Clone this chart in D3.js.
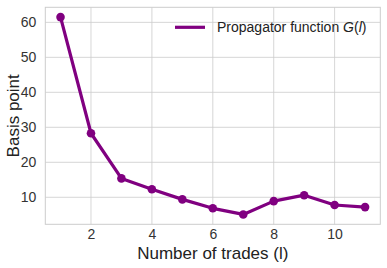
<!DOCTYPE html>
<html><head><meta charset="utf-8">
<script src="https://cdn.jsdelivr.net/npm/d3@7"></script>
<style>body{margin:0;background:#fff}svg{display:block}text{font-family:"Liberation Sans",Arial,sans-serif}</style>
</head><body>
<script>
const trades = [1,2,3,4,5,6,7,8,9,10,11];
const propagator = [61.5,28.3,15.4,12.3,9.4,6.85,5.1,8.9,10.6,7.8,7.2];
const xTicks = [2,4,6,8,10];
const yTicks = [10,20,30,40,50,60];
const seriesName = "Propagator function ";

const W=387,H=268;
const m={l:45.3,r:6.7,t:7.3,b:43.7};
const svg=d3.select("body").append("svg").attr("width",W).attr("height",H);
const x=d3.scaleLinear().domain([0.5,11.5]).range([m.l,W-m.r]);
const y=d3.scaleLinear().domain([2.28,64.3]).range([H-m.b,m.t]);
const g=svg.append("g");
// grid
g.selectAll(".gx").data(xTicks).join("line").attr("x1",d=>x(d)).attr("x2",d=>x(d)).attr("y1",m.t).attr("y2",H-m.b).attr("stroke","#cccccc").attr("stroke-width",0.8);
g.selectAll(".gy").data(yTicks).join("line").attr("y1",d=>y(d)).attr("y2",d=>y(d)).attr("x1",m.l).attr("x2",W-m.r).attr("stroke","#cccccc").attr("stroke-width",0.8);
g.append("rect").attr("x",m.l).attr("y",m.t).attr("width",W-m.r-m.l).attr("height",H-m.b-m.t).attr("fill","none").attr("stroke","#cccccc").attr("stroke-width",1);
// axes
const xa=svg.append("g").attr("transform",`translate(0,${H-m.b})`).call(d3.axisBottom(x).tickValues(xTicks).tickSize(0).tickPadding(5));
const ya=svg.append("g").attr("transform",`translate(${m.l},0)`).call(d3.axisLeft(y).tickValues(yTicks).tickSize(0).tickPadding(9));
[xa,ya].forEach(a=>{a.select(".domain").remove();a.selectAll("text").attr("font-size",14).attr("fill","#333").style("font-family","Liberation Sans, Arial, sans-serif");});
// line
svg.append("path").datum(trades.map((t,i)=>[t,propagator[i]])).attr("d",d3.line().x(d=>x(d[0])).y(d=>y(d[1]))).attr("fill","none").attr("stroke","#800080").attr("stroke-width",3.2).attr("stroke-linejoin","round");
svg.selectAll(".pt").data(trades).join("circle").attr("cx",d=>x(d)).attr("cy",(d,i)=>y(propagator[i])).attr("r",4.3).attr("fill","#800080");
// labels
svg.append("text").attr("x",(m.l+W-m.r)/2).attr("y",258.5).attr("text-anchor","middle").attr("font-size",17).attr("fill","#222").text("Number of trades (l)");
svg.append("text").attr("transform",`translate(19,${(m.t+H-m.b)/2}) rotate(-90)`).attr("text-anchor","middle").attr("font-size",17).attr("fill","#222").text("Basis point");
// legend
svg.append("line").attr("x1",175).attr("x2",205).attr("y1",27.3).attr("y2",27.3).attr("stroke","#800080").attr("stroke-width",3.2);
const lt=svg.append("text").attr("x",217).attr("y",32).attr("font-size",14).attr("fill","#222");
lt.append("tspan").text(seriesName);
lt.append("tspan").attr("font-style","italic").text("G");
lt.append("tspan").text("(");
lt.append("tspan").attr("font-style","italic").text("l");
lt.append("tspan").text(")");
</script>
</body></html>
